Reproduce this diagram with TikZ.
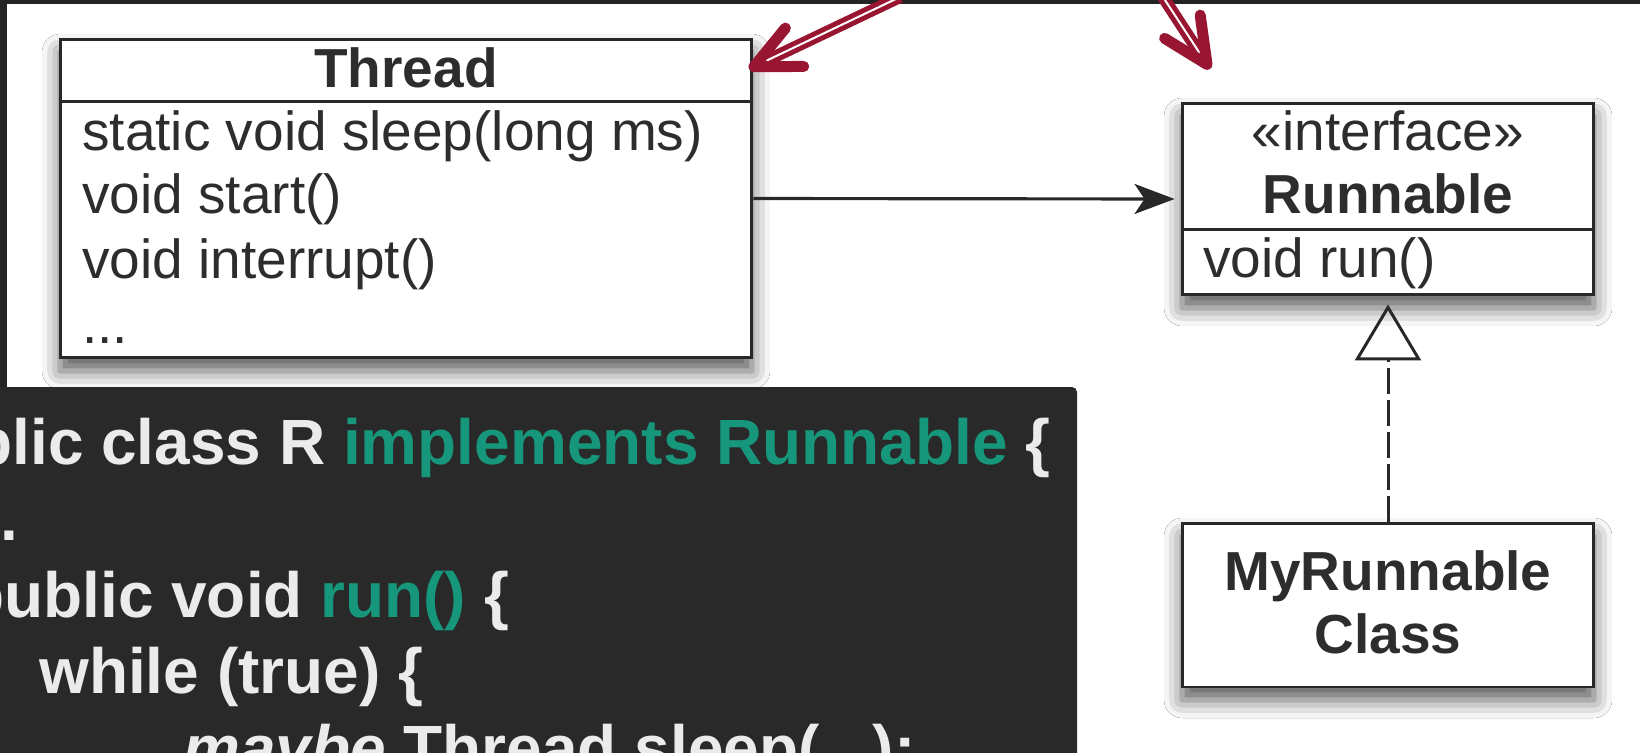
\documentclass[tikz,border=0pt]{standalone}
\usepackage{fontspec}
\setmainfont{Liberation Sans}
\usetikzlibrary{arrows.meta,calc,shadows.blur}

\definecolor{framedark}{RGB}{36,36,36}
\definecolor{codebg}{RGB}{41,41,41}
\definecolor{codelight}{RGB}{235,235,235}
\definecolor{codegreen}{RGB}{22,150,122}
\definecolor{boxline}{RGB}{40,40,40}
\definecolor{umlink}{RGB}{45,45,45}
\definecolor{arrowred}{RGB}{152,22,50}

\begin{document}
\begin{tikzpicture}[x=0.02cm, y=-0.02cm,
  umlbox/.style={rectangle, draw=boxline, line width=1.7pt, fill=white, inner sep=0pt,
    blur shadow={shadow xshift=0cm, shadow yshift=-0.26cm, shadow blur radius=0.36cm, shadow opacity=65}},
  umltext/.style={inner sep=0pt, text=umlink, font=\fontsize{31.3}{36}\selectfont},
  codetext/.style={inner sep=0pt, anchor=base west, text=codelight, font=\fontsize{36.4}{42}\selectfont\bfseries},
  sepline/.style={draw=boxline, line width=1.7pt},
  redshaft/.style={draw=arrowred, line width=0.1cm, double=white, double distance=0.04cm, shorten >=0.3cm},
  redtip/.style={draw=arrowred, line width=0.24cm, -{Straight Barb[length=0.9cm, width=0.85cm, line width=0.22cm, round]}}]
  \clip (0,0) rectangle (1640,752);
  % slide background
  \fill[framedark] (0,0) rectangle (1640,752);
  \fill[white] (7,4) rectangle (1640,752);

  % uml classes
  \node [umlbox, minimum width=13.84cm, minimum height=6.38cm] (thread) at (406,198.5) {};
  \node [umlbox, minimum width=8.24cm, minimum height=3.84cm] (runnable) at (1388,199) {};
  \node [umlbox, minimum width=8.24cm, minimum height=3.28cm] (myrunnable) at (1388,605) {};
  \draw[sepline] ([yshift=-1.28cm]thread.north west) -- ([yshift=-1.28cm]thread.north east);
  \draw[sepline] ([yshift=-2.56cm]runnable.north west) -- ([yshift=-2.56cm]runnable.north east);

  \node [umltext, anchor=base, font=\fontsize{31.3}{36}\selectfont\bfseries] (threadname) at (406,87) {Thread};
  \node [umltext, anchor=base west] (sleep) at (82,150) {static void sleep(long ms)};
  \node [umltext, anchor=base west] (start) at (82,213) {void start()};
  \node [umltext, anchor=base west] (interrupt) at (82,278) {void interrupt()};
  \node [umltext, anchor=base west] (more) at (82,343) {...};

  \node [umltext, anchor=base] (stereo) at (1388,150) {«interface»};
  \node [umltext, anchor=base, font=\fontsize{31.3}{36}\selectfont\bfseries] (runnablename) at (1388,213) {Runnable};
  \node [umltext, anchor=base west] (run) at (1203,277) {void run()};

  \node [umltext, anchor=base, font=\fontsize{31.3}{36}\selectfont\bfseries] (myname) at (1388,590) {MyRunnable};
  \node [umltext, anchor=base, font=\fontsize{31.3}{36}\selectfont\bfseries] (myclass) at (1388,653) {Class};

  % relations
  \draw[boxline, line width=1.8pt, shorten >=0.12cm, -{Stealth[length=0.8cm, width=0.6cm, inset=0.2cm]}] (thread.east) -- (runnable.west);
  \draw[boxline, line width=1.7pt, dash pattern=on 0.52cm off 0.12cm, shorten >=0.16cm,
    -{Triangle[open, length=1.12cm, width=1.32cm, line width=1.7pt]}] (myrunnable.north) -- (runnable.south);

  % red pointers
  \coordinate (r1s) at (900,-3);
  \coordinate (r1t) at (749,69);
  \coordinate (r2s) at (1163,-3);
  \coordinate (r2t) at (1210,69);
  \draw[redshaft] (r1s) -- (r1t);
  \draw[redtip] ($(r1t)!0.3cm!(r1s)$) -- (r1t);
  \draw[redshaft] (r2s) -- (r2t);
  \draw[redtip] ($(r2t)!0.3cm!(r2s)$) -- (r2t);

  % code panel
  \fill[codebg, rounded corners=0.1cm] (-40,387) rectangle (1077,800);
  \node [codetext] (line1) at (-105,464) {public class R \textcolor{codegreen}{implements Runnable} \{};
  \node [codetext] (line2) at (-35,540) {...};
  \node [codetext] (line3) at (-35,617) {public void \textcolor{codegreen}{run()} \{};
  \node [codetext] (line4) at (39,693) {while (true) \{};
  \node [codetext] (line5) at (183,770) {\textit{maybe} Thread.sleep(...);};
\end{tikzpicture}
\end{document}
